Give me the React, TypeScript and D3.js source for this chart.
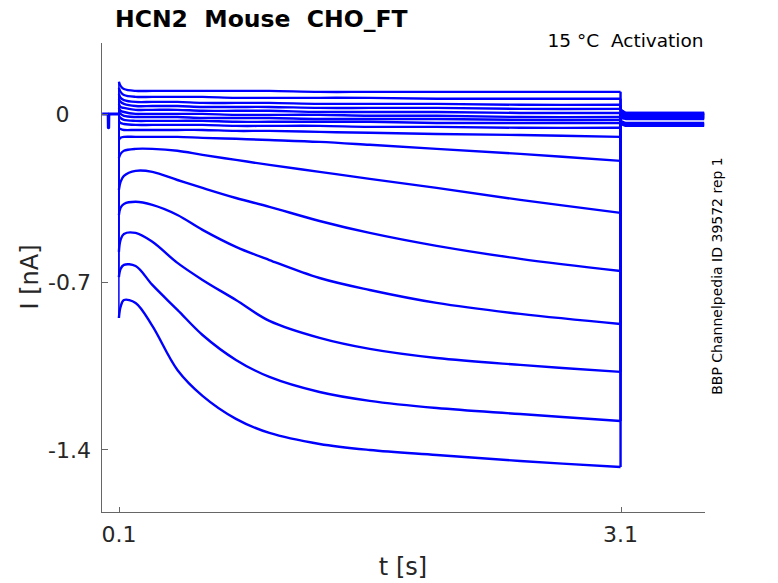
import React from "react";
import * as d3 from "d3";

// time points (s) of the test pulse samples
const times = [0.1, 0.11, 0.13, 0.2, 0.3, 0.45, 0.6, 0.8, 1.0, 1.3, 1.6, 2.0, 2.5, 3.1];

// current (nA) for each sweep at the time points above
const trace01 = [0.134, 0.117, 0.104, 0.096, 0.096, 0.096, 0.096, 0.096, 0.096, 0.092, 0.092, 0.092, 0.092, 0.092];
const trace02 = [0.109, 0.092, 0.079, 0.071, 0.071, 0.071, 0.071, 0.067, 0.067, 0.067, 0.067, 0.063, 0.063, 0.063];
const trace03 = [0.084, 0.067, 0.058, 0.05, 0.05, 0.05, 0.046, 0.046, 0.046, 0.042, 0.042, 0.042, 0.038, 0.038];
const trace04 = [0.063, 0.05, 0.042, 0.033, 0.033, 0.033, 0.029, 0.029, 0.029, 0.025, 0.025, 0.025, 0.021, 0.021];
const trace05 = [0.042, 0.029, 0.025, 0.017, 0.017, 0.017, 0.013, 0.013, 0.013, 0.008, 0.008, 0.008, 0.004, 0.004];
const trace06 = [0.025, 0.013, 0.008, 0.0, 0.0, 0.0, 0.0, -0.004, -0.004, -0.004, -0.008, -0.008, -0.013, -0.013];
const trace07 = [0.008, 0.0, -0.008, -0.013, -0.013, -0.013, -0.017, -0.017, -0.017, -0.021, -0.021, -0.021, -0.025, -0.025];
const trace08 = [-0.008, -0.017, -0.025, -0.029, -0.029, -0.029, -0.029, -0.033, -0.033, -0.033, -0.033, -0.038, -0.038, -0.038];
const trace09 = [-0.029, -0.038, -0.042, -0.046, -0.046, -0.046, -0.046, -0.05, -0.05, -0.05, -0.054, -0.054, -0.058, -0.058];
const trace10 = [-0.058, -0.063, -0.067, -0.067, -0.067, -0.067, -0.067, -0.071, -0.071, -0.075, -0.079, -0.084, -0.088, -0.096];
const trace11 = [-0.109, -0.1, -0.096, -0.096, -0.096, -0.096, -0.1, -0.104, -0.109, -0.117, -0.129, -0.146, -0.167, -0.196];
const trace12 = [-0.184, -0.167, -0.154, -0.146, -0.146, -0.154, -0.171, -0.192, -0.213, -0.242, -0.271, -0.309, -0.359, -0.413];
const trace13 = [-0.317, -0.284, -0.259, -0.238, -0.242, -0.276, -0.309, -0.351, -0.388, -0.447, -0.497, -0.551, -0.605, -0.656];
const trace14 = [-0.422, -0.392, -0.376, -0.367, -0.38, -0.422, -0.484, -0.555, -0.61, -0.685, -0.735, -0.789, -0.835, -0.877];
const trace15 = [-0.576, -0.526, -0.501, -0.497, -0.534, -0.622, -0.693, -0.777, -0.864, -0.935, -0.981, -1.019, -1.048, -1.077];
const trace16 = [-0.681, -0.647, -0.63, -0.635, -0.714, -0.818, -0.923, -1.027, -1.098, -1.161, -1.198, -1.228, -1.253, -1.282];
const trace17 = [-0.852, -0.806, -0.777, -0.789, -0.885, -1.069, -1.177, -1.273, -1.332, -1.378, -1.403, -1.424, -1.449, -1.474];

// tail currents after the pulse
const tailTimes = [3.1, 3.13, 3.6];
const tail01 = [0.017, 0.004, 0.004];
const tail02 = [0.017, 0.004, 0.004];
const tail03 = [0.013, 0.0, 0.0];
const tail04 = [0.013, 0.0, 0.0];
const tail05 = [0.008, -0.004, -0.004];
const tail06 = [0.008, -0.004, -0.004];
const tail07 = [0.004, -0.008, -0.008];
const tail08 = [0.004, -0.008, -0.008];
const tail09 = [0.0, -0.013, -0.013];
const tail10 = [0.0, -0.013, -0.013];
const tail11 = [-0.004, -0.017, -0.017];
const tail12 = [-0.008, -0.017, -0.017];
const tail13 = [-0.017, -0.021, -0.021];
const tail14 = [-0.029, -0.038, -0.038];
const tail15 = [-0.033, -0.042, -0.042];
const tail16 = [-0.038, -0.046, -0.046];
const tail17 = [-0.042, -0.05, -0.05];

// holding segment before the pulse
const holdTimes = [0, 0.036, 0.037, 0.039, 0.04, 0.1];
const holdValues = [0, 0, -0.058, -0.058, 0, 0];

const xTicks = [0.1, 3.1];
const xTickLabels = ["0.1", "3.1"];
const yTicks = [0, -0.7, -1.4];
const yTickLabels = ["0", "-0.7", "-1.4"];

const traces = [trace01, trace02, trace03, trace04, trace05, trace06, trace07, trace08, trace09, trace10, trace11, trace12, trace13, trace14, trace15, trace16, trace17];
const tails = [tail01, tail02, tail03, tail04, tail05, tail06, tail07, tail08, tail09, tail10, tail11, tail12, tail13, tail14, tail15, tail16, tail17];

const FONT = "DejaVu Sans, sans-serif";
const BLUE = "#0000ff";

export default function App() {
  const x = d3.scaleLinear().domain([-0.004, 3.602]).range([101.5, 704.5]);
  const y = d3.scaleLinear().domain([-1.662, 0.296]).range([512, 43]);

  const smooth = d3
    .line<[number, number]>()
    .x((d) => x(d[0]))
    .y((d) => y(d[1]))
    .curve(d3.curveCatmullRom.alpha(0.5));
  const straight = d3
    .line<[number, number]>()
    .x((d) => x(d[0]))
    .y((d) => y(d[1]));

  const holdPts = holdTimes.map((t, i) => [t, holdValues[i]] as [number, number]);
  const axisY = 512.5;
  const axisX = 101.5;

  return (
    <svg
      width={778}
      height={583}
      style={{ position: "absolute", left: 0, top: 0, background: "#fff" }}
      fontFamily={FONT}
    >
      <rect x={0} y={0} width={778} height={583} fill="#fff" />
      {/* traces */}
      <g fill="none" stroke={BLUE} strokeLinejoin="round">
        <path d={straight(holdPts) || ""} strokeWidth={3} />
        {traces.map((tr, k) => {
          const pts = times.map((t, i) => [t, tr[i]] as [number, number]);
          const step: [number, number][] = [
            [times[0], holdValues[holdValues.length - 1]],
            [times[0], tr[0]],
          ];
          const tl = tails[k];
          const tailPts: [number, number][] = [
            [times[times.length - 1], tr[tr.length - 1]],
            ...tailTimes.map((t, i) => [t, tl[i]] as [number, number]),
          ];
          return (
            <g key={k}>
              <path d={straight(step) || ""} strokeWidth={1.5} />
              <path d={smooth(pts) || ""} strokeWidth={2.4} />
              <path d={straight(tailPts) || ""} strokeWidth={2.4} />
            </g>
          );
        })}
      </g>

      {/* axes */}
      <g stroke="#666" strokeWidth={1} shapeRendering="crispEdges">
        <line x1={axisX} y1={43} x2={axisX} y2={axisY} />
        <line x1={axisX} y1={axisY} x2={704.5} y2={axisY} />
        {yTicks.map((v) => (
          <line key={"yt" + v} x1={axisX} x2={axisX + 6} y1={Math.round(y(v)) + 0.5} y2={Math.round(y(v)) + 0.5} />
        ))}
        {xTicks.map((v) => (
          <line key={"xt" + v} x1={Math.round(x(v)) + 0.5} x2={Math.round(x(v)) + 0.5} y1={axisY} y2={axisY - 6} />
        ))}
      </g>

      {/* tick labels */}
      <g fill="#262626" fontSize={22}>
        {yTicks.map((v, i) => (
          <text key={"yl" + v} x={yTickLabels[i] === "0" ? 69.5 : 91} y={y(v) + 8.5} textAnchor="end">
            {yTickLabels[i]}
          </text>
        ))}
        {xTicks.map((v, i) => (
          <text key={"xl" + v} x={x(v)} y={541.5} textAnchor="middle">
            {xTickLabels[i]}
          </text>
        ))}
      </g>

      {/* axis labels */}
      <text x={403} y={575} textAnchor="middle" fontSize={24} fill="#262626">
        t [s]
      </text>
      <text
        transform="translate(38,277) rotate(-90)"
        textAnchor="middle"
        fontSize={24}
        fill="#262626"
      >
        I [nA]
      </text>

      {/* title */}
      <text x={115} y={26.5} fontSize={23.5} fontWeight="bold" fill="#000" style={{ whiteSpace: "pre" }}>
        {"HCN2  Mouse  CHO_FT"}
      </text>
      <text x={703.5} y={46.5} fontSize={18.5} textAnchor="end" fill="#000" style={{ whiteSpace: "pre" }}>
        {"15 °C  Activation"}
      </text>
      <text
        transform="translate(721.5,276) rotate(-90)"
        textAnchor="middle"
        fontSize={14}
        fill="#000"
      >
        BBP Channelpedia ID 39572 rep 1
      </text>
    </svg>
  );
}
